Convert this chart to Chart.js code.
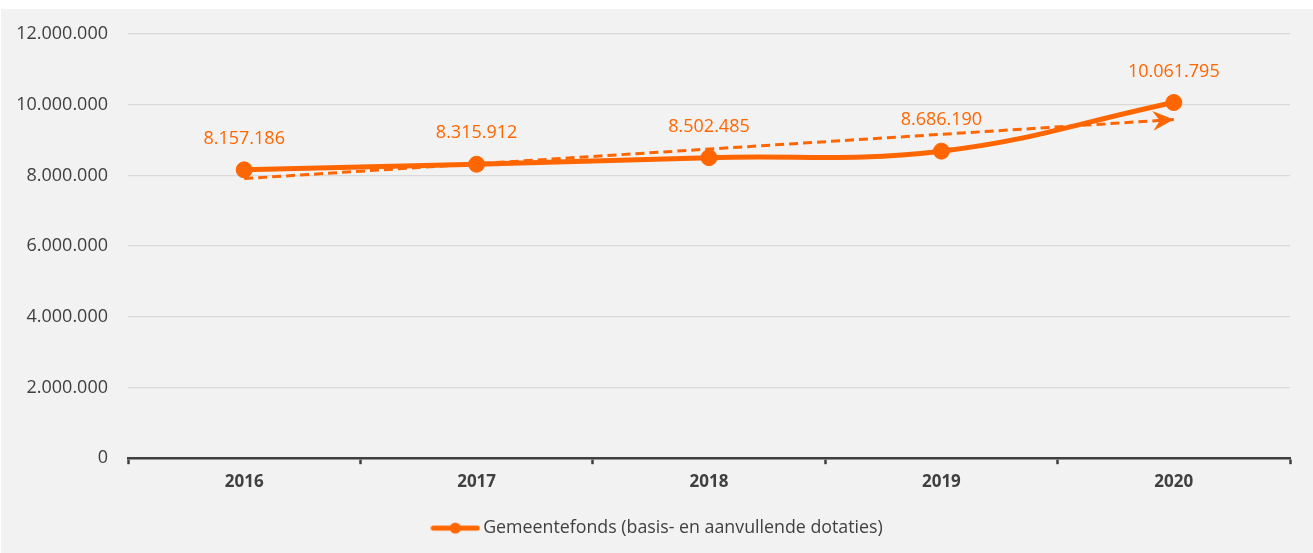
<!DOCTYPE html>
<html>
<head>
<meta charset="utf-8">
<script src="https://cdn.jsdelivr.net/npm/chart.js@4"></script>
<style>
  body { margin: 0; background: #ffffff; }
  #wrap { position: absolute; left: 1px; top: 9px; width: 1312px; height: 544px; background: #f2f2f2; }
</style>
</head>
<body>
<div id="wrap"><canvas id="fondsChart"></canvas></div>
<script>
const years = ["2016", "2017", "2018", "2019", "2020"];
const fondsValues = [8157186, 8315912, 8502485, 8686190, 10061795];
// dashed trend line, start and end
const trendValues = [7910000, null, null, null, 9580000];
const yTicks = [0, 2000000, 4000000, 6000000, 8000000, 10000000, 12000000];

const ORANGE = "#ff6600";
const TEXT = "#404040";
const FONT = "'Open Sans', 'Noto Sans', sans-serif";

function fmt(v) {
  return String(v).replace(/\B(?=(\d{3})+(?!\d))/g, ".");
}

// legend sample: line with dot
const legendIcon = document.createElement("canvas");
legendIcon.width = 50;
legendIcon.height = 14;
{
  const c = legendIcon.getContext("2d");
  c.strokeStyle = ORANGE;
  c.lineWidth = 5;
  c.lineCap = "round";
  c.beginPath();
  c.moveTo(3, 7);
  c.lineTo(47, 7);
  c.stroke();
  c.fillStyle = ORANGE;
  c.beginPath();
  c.arc(25, 7, 5.5, 0, Math.PI * 2);
  c.fill();
}

// value labels above the points
const valueLabels = {
  id: "valueLabels",
  afterDatasetsDraw(chart) {
    const meta = chart.getDatasetMeta(0);
    const ctx = chart.ctx;
    ctx.save();
    ctx.font = "18px " + FONT;
    ctx.fillStyle = ORANGE;
    ctx.textAlign = "center";
    ctx.textBaseline = "middle";
    meta.data.forEach((pt, i) => {
      ctx.fillText(fmt(fondsValues[i]), pt.x, pt.y - 31);
    });
    ctx.restore();
  }
};

// arrow head at the end of the trend line
const trendArrow = {
  id: "trendArrow",
  afterDatasetsDraw(chart) {
    const meta = chart.getDatasetMeta(1);
    const pts = meta.data.filter((p, i) => trendValues[i] !== null);
    const a = pts[0], b = pts[pts.length - 1];
    const ang = Math.atan2(b.y - a.y, b.x - a.x);
    const ctx = chart.ctx;
    ctx.save();
    ctx.translate(b.x, b.y);
    ctx.rotate(ang);
    ctx.fillStyle = ORANGE;
    ctx.beginPath();
    ctx.moveTo(0, 0);
    ctx.lineTo(-21, -10);
    ctx.lineTo(-14, 0);
    ctx.lineTo(-21, 10);
    ctx.closePath();
    ctx.fill();
    ctx.restore();
  }
};

// centre the legend on the whole canvas, not only the padded box
const legendCentre = {
  id: "legendCentre",
  afterLayout(chart) {
    chart.legend.left = 5;
    chart.legend.right = chart.width;
  }
};

new Chart(document.getElementById("fondsChart"), {
  type: "line",
  data: {
    labels: years,
    datasets: [
      {
        label: "Gemeentefonds (basis- en aanvullende dotaties)",
        data: fondsValues,
        borderColor: ORANGE,
        backgroundColor: ORANGE,
        borderWidth: 5,
        tension: 0.4,
        pointRadius: 8,
        pointBorderWidth: 1,
        pointBackgroundColor: ORANGE,
        pointBorderColor: ORANGE,
        order: 0
      },
      {
        label: "trend",
        data: trendValues,
        spanGaps: true,
        borderColor: ORANGE,
        borderWidth: 3,
        borderDash: [9, 5],
        pointRadius: 0,
        tension: 0,
        fill: false,
        order: 1
      }
    ]
  },
  options: {
    responsive: true,
    maintainAspectRatio: false,
    animation: false,
    layout: { padding: { left: 0, right: 23, top: 25, bottom: 6 } },
    plugins: {
      tooltip: { enabled: false },
      legend: {
        position: "bottom",
        labels: {
          filter: (item) => item.datasetIndex === 0,
          usePointStyle: true,
          pointStyle: legendIcon,
          pointStyleWidth: 38,
          boxHeight: 18,
          color: TEXT,
          font: { family: FONT, size: 17.8 },
          padding: 10
        }
      }
    },
    scales: {
      x: {
        offset: true,
        grid: {
          offset: true,
          drawOnChartArea: false,
          drawTicks: true,
          tickLength: 6,
          tickWidth: 2.5,
          color: "#404040"
        },
        border: { display: true, color: "#404040", width: 2.5 },
        ticks: {
          color: TEXT,
          padding: 8,
          font: { family: FONT, size: 17, weight: "bold" }
        },
        afterFit(scale) { scale.height = 51; }
      },
      y: {
        min: 0,
        max: 12000000,
        afterBuildTicks(scale) {
          scale.ticks = yTicks.map(v => ({ value: v }));
        },
        grid: {
          color: "#d9d9d9",
          lineWidth: 1.3,
          drawTicks: true,
          tickLength: 20,
          tickColor: "rgba(0,0,0,0)"
        },
        border: { display: false },
        ticks: {
          color: TEXT,
          padding: 0,
          font: { family: FONT, size: 18 },
          callback: (v) => fmt(v)
        },
        afterFit(scale) { scale.width = 127; }
      }
    }
  },
  plugins: [valueLabels, trendArrow, legendCentre]
});
</script>
</body>
</html>
